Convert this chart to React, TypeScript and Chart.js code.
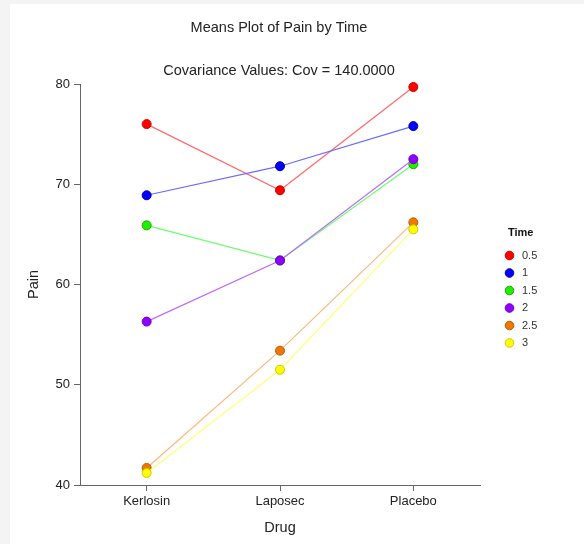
import React, { useEffect, useRef } from "react";
import { Chart, registerables } from "chart.js";

Chart.register(...registerables);

// Drug groups on the x axis
const drugs = ["Kerlosin", "Laposec", "Placebo"];
// Time levels (one line per level)
const times = ["0.5", "1", "1.5", "2", "2.5", "3"];

// Mean pain per drug for each time level
const pain05 = [76.0, 69.4, 79.7];
const pain1 = [68.9, 71.8, 75.8];
const pain15 = [65.9, 62.4, 72.0];
const pain2 = [56.3, 62.4, 72.5];
const pain25 = [41.7, 53.4, 66.2];
const pain3 = [41.2, 51.5, 65.5];

const yTicks = [40, 50, 60, 70, 80];

const titleText = "Means Plot of Pain by Time";
const subtitleText = "Covariance Values: Cov = 140.0000";
const legendTitle = "Time";

const pointColors = ["#ff0000", "#0000ff", "#22ee00", "#8f00ff", "#f07800", "#ffff00"];
const pointBorders = ["#cc0000", "#0000b0", "#1aa800", "#6a00c0", "#b85c00", "#c8c800"];
const lineColors = ["#ff6a6a", "#6a6aff", "#6aff6a", "#bd6aff", "#ffb77a", "#ffff7a"];
// drawing order (lower = on top)
const drawOrder = [5, 4, 3, 2, 1, 0];

const seriesValues = [pain05, pain1, pain15, pain2, pain25, pain3];

const FONT = "Arial, 'Liberation Sans', sans-serif";

const textPlugin = {
  id: "textAndLegend",
  afterDraw(chart: any) {
    const ctx = chart.ctx;
    ctx.save();
    ctx.fillStyle = "#222";
    ctx.textAlign = "center";
    ctx.textBaseline = "middle";
    ctx.font = `14.5px ${FONT}`;
    ctx.fillText(titleText, 269, 24);
    ctx.fillText(subtitleText, 269, 67);

    // legend
    ctx.textAlign = "left";
    ctx.font = `bold 11px ${FONT}`;
    ctx.fillStyle = "#111";
    ctx.fillText(legendTitle, 498, 228.5);
    ctx.font = `11px ${FONT}`;
    times.forEach((t, i) => {
      const y = 251.5 + i * 17.5;
      ctx.beginPath();
      ctx.arc(499.5, y, 4.3, 0, Math.PI * 2);
      ctx.fillStyle = pointColors[i];
      ctx.fill();
      ctx.lineWidth = 1;
      ctx.strokeStyle = pointBorders[i];
      ctx.stroke();
      ctx.fillStyle = "#333";
      ctx.fillText(t, 512, y);
    });
    ctx.restore();
  },
};

export default function App() {
  const ref = useRef<HTMLCanvasElement>(null);

  useEffect(() => {
    if (!ref.current) return;
    const chart = new Chart(ref.current, {
      type: "line",
      data: {
        labels: drugs,
        datasets: seriesValues.map((vals, i) => ({
          label: times[i],
          data: vals,
          borderColor: lineColors[i],
          borderWidth: 1.2,
          backgroundColor: pointColors[i],
          pointBackgroundColor: pointColors[i],
          pointBorderColor: pointBorders[i],
          pointBorderWidth: 1,
          pointRadius: 4.5,
          tension: 0,
          fill: false,
          clip: false,
          order: drawOrder[i],
        })),
      },
      options: {
        responsive: false,
        animation: false,
        layout: { padding: { top: 80, right: 104, left: 0, bottom: 0 } },
        plugins: {
          legend: { display: false },
          tooltip: { enabled: false },
          title: { display: false },
        },
        scales: {
          x: {
            type: "category",
            offset: true,
            afterFit: (s: any) => {
              s.height = 59;
            },
            ticks: {
              font: { size: 13, family: FONT },
              color: "#222",
              padding: 3,
              maxRotation: 0,
            },
            grid: {
              drawOnChartArea: false,
              drawTicks: true,
              tickLength: 6,
              color: "#666",
              offset: false,
            },
            border: { display: true, color: "#666", width: 1 },
            title: {
              display: true,
              text: "Drug",
              font: { size: 14.5, family: FONT },
              color: "#222",
              padding: { top: 4, bottom: 7 },
            },
          },
          y: {
            type: "linear",
            min: 40,
            max: 80,
            afterBuildTicks: (s: any) => {
              s.ticks = yTicks.map((v) => ({ value: v }));
            },
            afterFit: (s: any) => {
              s.width = 70;
            },
            ticks: {
              font: { size: 13, family: FONT },
              color: "#222",
              padding: 4,
            },
            grid: {
              drawOnChartArea: false,
              drawTicks: true,
              tickLength: 6,
              color: "#666",
            },
            border: { display: true, color: "#666", width: 1 },
            title: {
              display: true,
              text: "Pain",
              font: { size: 14.5, family: FONT },
              color: "#222",
              padding: { top: 15, bottom: 4 },
            },
          },
        },
      },
      plugins: [textPlugin],
    });
    return () => chart.destroy();
  }, []);

  return (
    <div
      style={{
        position: "fixed",
        left: 0,
        top: 0,
        width: 584,
        height: 544,
        background: "#f4f4f4",
      }}
    >
      <div
        style={{
          position: "absolute",
          left: 10,
          top: 4,
          width: 574,
          height: 540,
          background: "#ffffff",
        }}
      >
        <canvas ref={ref} width={574} height={540} />
      </div>
    </div>
  );
}
